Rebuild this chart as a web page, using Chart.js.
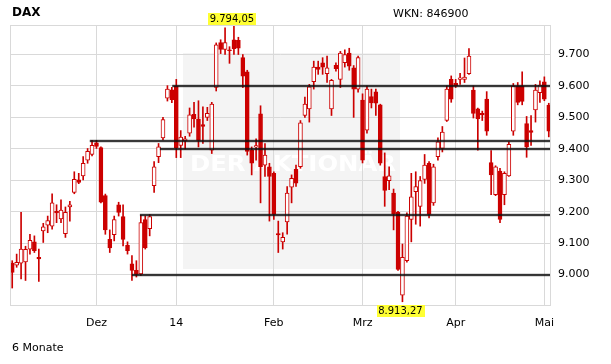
<!DOCTYPE html>
<html>
<head>
<meta charset="utf-8">
<script src="https://cdn.jsdelivr.net/npm/chart.js@4/dist/chart.umd.min.js"></script>
<style>
    body { margin: 0; background: #fff; }
    #wrap { position: relative; width: 611px; height: 364px; }
    #wrap canvas { position: absolute; left: 0; top: 0; }
    .txt { position: absolute; font-family: "DejaVu Sans", sans-serif; font-size: 11px; line-height: 13px; color: #000; white-space: nowrap; }
</style>
</head>
<body>
<div id="wrap">
    <canvas id="daxChart" width="611" height="364"></canvas>
    <div class="txt" style="left:12px; top:6px; font-size:12px; font-weight:bold;">DAX</div>
    <div class="txt" style="left:393px; top:7px;">WKN: 846900</div>
    <div class="txt" style="left:12px; top:341px;">6 Monate</div>
</div>
<script>
// Tageskerzen DAX, 05.11.2013 - 05.05.2014
const openVals = [
    9036, 9030, 9036, 9040, 9081, 9104, 9055, 9139, 9157, 9154, 9201, 9177, 9130, 9215, 9261, 9301, 9314, 9364, 9382,
    9419, 9404, 9251, 9112, 9127, 9222, 9184, 9093, 9034, 9013, 9002, 9175, 9146, 9283, 9375, 9435, 9561, 9588,
    9600, 9411, 9425, 9450, 9510, 9495, 9477, 9500, 9396, 9595, 9738, 9716, 9715, 9747, 9745, 9690, 9645, 9396, 9406, 9511, 9348, 9343,
    9322, 9130, 9104, 9167, 9278, 9335, 9343, 9506, 9527, 9614, 9660, 9674, 9639, 9527, 9666, 9621, 9674, 9705, 9658, 9590,
    9555, 9459, 9566, 9581, 9540, 9312, 9299, 9259, 9198, 8934, 9044, 9175, 9264, 9217, 9303, 9354, 9228, 9375, 9401, 9490, 9621,
    9608, 9621, 9621, 9639, 9587, 9527, 9513, 9558, 9356, 9254, 9329, 9254, 9314, 9456, 9600, 9600, 9480, 9458, 9524, 9579,
    9613, 9539
];
const highVals = [
    9044, 9065, 9198, 9090, 9128, 9123, 9081, 9163, 9186, 9257, 9222, 9238, 9215, 9233, 9327, 9322, 9375, 9401, 9427,
    9427, 9406, 9256, 9142, 9186, 9230, 9222, 9104, 9060, 9044, 9188, 9186, 9191, 9359, 9417, 9500, 9601, 9596,
    9621, 9458, 9440, 9530, 9548, 9553, 9534, 9532, 9548, 9737, 9747, 9785, 9725, 9794.05, 9755, 9700, 9650, 9406, 9432, 9537, 9417, 9354,
    9327, 9170, 9133, 9280, 9317, 9348, 9490, 9565, 9605, 9679, 9679, 9690, 9695, 9621, 9674, 9710, 9715, 9720, 9665, 9695,
    9575, 9600, 9590, 9590, 9542, 9387, 9343, 9272, 9201, 9097, 9196, 9322, 9327, 9312, 9382, 9359, 9351, 9435, 9471, 9600, 9632,
    9621, 9640, 9689, 9719, 9600, 9530, 9520, 9582, 9394, 9346, 9338, 9327, 9422, 9608, 9611, 9645, 9503, 9506, 9605, 9616,
    9629, 9545
];
const lowVals = [
    8957, 9023, 8986, 8981, 9065, 9070, 8978, 9102, 9133, 9144, 9165, 9165, 9118, 9170, 9257, 9289, 9301, 9354, 9377,
    9401, 9228, 9128, 9070, 9107, 9186, 9091, 9065, 8981, 8992, 8997, 9081, 9123, 9261, 9356, 9428, 9552, 9547,
    9372, 9372, 9400, 9440, 9469, 9406, 9417, 9490, 9385, 9584, 9703, 9700, 9672, 9700, 9700, 9595, 9380, 9317, 9364, 9228, 9312, 9170,
    9175, 9070, 9081, 9128, 9228, 9280, 9338, 9500, 9485, 9590, 9637, 9637, 9611, 9506, 9647, 9595, 9660, 9650, 9500, 9580,
    9355, 9450, 9530, 9506, 9348, 9217, 9270, 9142, 9013, 8913.27, 9039, 9104, 9160, 9154, 9290, 9180, 9220, 9364, 9390, 9487, 9548,
    9595, 9605, 9611, 9637, 9498, 9396, 9490, 9443, 9254, 9251, 9165, 9222, 9312, 9443, 9540, 9540, 9373, 9411, 9485, 9548,
    9553, 9438
];
const closeVals = [
    9007, 9039, 9081, 9080, 9109, 9076, 9050, 9152, 9172, 9228, 9196, 9205, 9198, 9222, 9303, 9293, 9354, 9392, 9411,
    9408, 9230, 9142, 9085, 9175, 9198, 9112, 9076, 9013, 9000, 9165, 9085, 9184, 9343, 9406, 9493, 9590, 9556,
    9404, 9437, 9432, 9508, 9495, 9427, 9471, 9513, 9542, 9731, 9716, 9738, 9712, 9719, 9720, 9631, 9392, 9354, 9410, 9343, 9380, 9312,
    9191, 9126, 9118, 9259, 9306, 9291, 9483, 9542, 9597, 9660, 9653, 9660, 9658, 9618, 9655, 9705, 9700, 9663, 9590, 9690,
    9364, 9590, 9546, 9545, 9354, 9268, 9314, 9194, 9016, 9055, 9186, 9247, 9280, 9299, 9348, 9191, 9343, 9422, 9453, 9590, 9558,
    9600, 9626, 9628, 9695, 9513, 9495, 9508, 9456, 9317, 9343, 9175, 9322, 9414, 9600, 9548, 9551, 9406, 9452, 9587, 9603,
    9558, 9456
];

// Monatsbeschriftung der x-Achse (Index des ersten Handelstags)
const monthIdx = [19, 37, 59, 79, 100, 120];
const monthText = ['Dez', '14', 'Feb', 'Mrz', 'Apr', 'Mai'];

// Beschriftete Kurslinien der y-Achse
const yTicks = [9000, 9100, 9200, 9300, 9400, 9500, 9600, 9700];

// Unterstuetzungs-/Widerstandslinien: Startkerze und Niveau
const levelStart = [17.5, 33.3, 36.1, 28.8, 27];
const levelValue = [9425, 9400, 9600, 9190, 9000];

const RED = '#cc0000';
const GRID = '#d9d9d9';

function fmtDe(v, dec) {
    const parts = v.toFixed(dec).split('.');
    const intPart = parts[0].replace(/\B(?=(\d{3})+(?!\d))/g, '.');
    return parts.length > 1 ? intPart + ',' + parts[1] : intPart;
}

const labels = openVals.map((v, i) => i);
const wicks = lowVals.map((l, i) => [l, highVals[i]]);
const bodies = openVals.map((o, i) => [o, closeVals[i]]);
const bodyFill = openVals.map((o, i) => closeVals[i] < o ? RED : '#ffffff');

// Hintergrund mit Wasserzeichen
const watermark = {
    id: 'watermark',
    beforeDraw(chart) {
        const c = chart.ctx;
        c.save();
        c.fillStyle = '#f4f4f4';
        c.fillRect(183, 53, 217, 216);
        c.fillStyle = '#ffffff';
        c.font = 'bold 22px "DejaVu Sans"';
        c.textBaseline = 'alphabetic';
        const txt = 'DER AKTIONÄR';
        const w = c.measureText(txt).width;
        c.translate(190, 171);
        c.scale(206 / w, 1);
        c.fillText(txt, 0, 0);
        c.restore();
    }
};

// Rahmen, Linien und Hoch/Tief-Markierung
const overlays = {
    id: 'overlays',
    afterDatasetsDraw(chart) {
        const c = chart.ctx;
        const area = chart.chartArea;
        const x = chart.scales.x;
        const y = chart.scales.y;
        c.save();

        levelValue.forEach((v, i) => {
            const py = Math.round(y.getPixelForValue(v));
            const px = x.getPixelForValue(levelStart[i]);
            c.strokeStyle = 'rgba(0,0,0,0.3)';
            c.lineWidth = 3;
            c.beginPath(); c.moveTo(px, py); c.lineTo(area.right, py); c.stroke();
            c.strokeStyle = '#111';
            c.lineWidth = 1.6;
            c.beginPath(); c.moveTo(px, py); c.lineTo(area.right, py); c.stroke();
        });

        c.strokeStyle = GRID;
        c.lineWidth = 1;
        c.strokeRect(Math.round(area.left) + 0.5, Math.round(area.top) + 0.5,
            Math.round(area.right - area.left) - 1, Math.round(area.bottom - area.top));

        let hi = 0, lo = 0;
        highVals.forEach((v, i) => { if (v > highVals[hi]) hi = i; });
        lowVals.forEach((v, i) => { if (v < lowVals[lo]) lo = i; });

        c.font = '10px "DejaVu Sans"';
        c.textBaseline = 'middle';
        c.textAlign = 'center';
        const marks = [
            { idx: hi, text: fmtDe(highVals[hi], 2), top: area.top - 12 },
            { idx: lo, text: fmtDe(lowVals[lo], 2), top: area.bottom }
        ];
        marks.forEach(m => {
            const cx = x.getPixelForValue(m.idx) - 2;
            const w = c.measureText(m.text).width + 3;
            c.fillStyle = '#ffff33';
            c.fillRect(Math.round(cx - w / 2), m.top, Math.round(w), 12);
            c.fillStyle = '#000';
            c.fillText(m.text, cx, m.top + 6.5);
        });
        c.restore();
    }
};

new Chart(document.getElementById('daxChart'), {
    type: 'bar',
    data: {
        labels: labels,
        datasets: [
            {
                label: 'Docht',
                data: wicks,
                backgroundColor: RED,
                borderWidth: 0,
                barThickness: 1,
                grouped: false,
                order: 2
            },
            {
                label: 'Kerze',
                data: bodies,
                backgroundColor: bodyFill,
                borderColor: RED,
                borderWidth: 1,
                borderSkipped: false,
                barThickness: 4,
                minBarLength: 1,
                grouped: false,
                order: 1
            }
        ]
    },
    options: {
        responsive: false,
        animation: false,
        layout: { padding: { left: 10, top: 25, right: 0, bottom: 0 } },
        plugins: { legend: { display: false }, tooltip: { enabled: false } },
        scales: {
            x: {
                type: 'category',
                offset: true,
                afterFit(scale) { scale.height = 59; },
                grid: {
                    offset: false,
                    drawTicks: false,
                    color: ctx => monthIdx.includes(ctx.index) ? GRID : 'rgba(0,0,0,0)'
                },
                border: { display: false },
                ticks: {
                    autoSkip: false,
                    maxRotation: 0,
                    padding: 12,
                    color: '#000',
                    font: { family: 'DejaVu Sans', size: 11 },
                    callback: (v, i) => {
                        const k = monthIdx.indexOf(i);
                        return k >= 0 ? monthText[k] : '';
                    }
                }
            },
            y: {
                position: 'right',
                min: 8903,
                max: 9794,
                afterFit(scale) { scale.width = 60; },
                afterBuildTicks(scale) { scale.ticks = yTicks.map(v => ({ value: v })); },
                grid: { color: GRID, drawTicks: false },
                border: { display: false },
                ticks: {
                    padding: 7,
                    color: '#000',
                    font: { family: 'DejaVu Sans', size: 11 },
                    callback: v => fmtDe(v, 0)
                }
            }
        }
    },
    plugins: [watermark, overlays]
});
</script>
</body>
</html>
